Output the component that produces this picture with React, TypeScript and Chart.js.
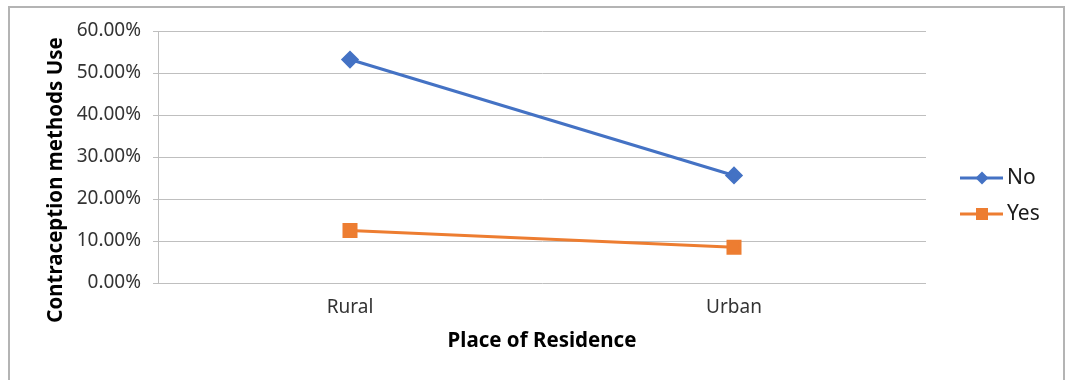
import React, { useEffect, useRef } from "react";
import { Chart, registerables } from "chart.js";

Chart.register(...registerables);

const categories = ["Rural", "Urban"];
const noValues = [53.2, 25.6];
const yesValues = [12.5, 8.5];
const seriesNames = ["No", "Yes"];
const xTitle = "Place of Residence";
const yTitle = "Contraception methods Use";

const FONT = "'Noto Sans', 'DejaVu Sans', sans-serif";

// Frame around the whole figure
const framePlugin = {
  id: "frame",
  beforeDraw(chart: any) {
    const ctx = chart.ctx;
    ctx.save();
    ctx.fillStyle = "#ffffff";
    ctx.fillRect(0, 0, chart.width, chart.height);
    ctx.strokeStyle = "#b4b4b4";
    ctx.lineWidth = 2;
    ctx.strokeRect(9, 7, 1055, 420);
    ctx.restore();
  },
};

// Vertical axis title, centred on the plot box
const yTitlePlugin = {
  id: "yTitle",
  afterDraw(chart: any) {
    const ctx = chart.ctx;
    ctx.save();
    ctx.translate(56, 180);
    ctx.rotate(-Math.PI / 2);
    ctx.font = `bold 20.5px ${FONT}`;
    ctx.fillStyle = "#000000";
    ctx.textAlign = "center";
    ctx.textBaseline = "middle";
    ctx.fillText(yTitle, 0, 0);
    ctx.restore();
  },
};

// Legend with a line segment and the series marker
const lineLegendPlugin = {
  id: "lineLegend",
  afterDraw(chart: any) {
    const ctx = chart.ctx;
    chart.data.datasets.forEach((ds: any, i: number) => {
      const y = 178 + i * 36;
      ctx.save();
      ctx.strokeStyle = ds.borderColor;
      ctx.lineWidth = 3;
      ctx.beginPath();
      ctx.moveTo(960, y);
      ctx.lineTo(1003, y);
      ctx.stroke();
      ctx.fillStyle = ds.pointBackgroundColor;
      ctx.beginPath();
      if (ds.pointStyle === "rectRot") {
        const r = 6.5;
        ctx.moveTo(982, y - r);
        ctx.lineTo(982 + r, y);
        ctx.lineTo(982, y + r);
        ctx.lineTo(982 - r, y);
        ctx.closePath();
      } else {
        ctx.rect(982 - 6, y - 6, 12, 12);
      }
      ctx.fill();
      ctx.font = `21px ${FONT}`;
      ctx.fillStyle = "#1a1a1a";
      ctx.textAlign = "left";
      ctx.textBaseline = "middle";
      ctx.fillText(ds.label, 1007, y);
      ctx.restore();
    });
  },
};

export default function App() {
  const ref = useRef<HTMLCanvasElement>(null);

  useEffect(() => {
    if (!ref.current) return;
    const chart = new Chart(ref.current, {
      type: "line",
      data: {
        labels: categories,
        datasets: [
          {
            label: seriesNames[0],
            data: noValues,
            borderColor: "#4472C4",
            backgroundColor: "#4472C4",
            pointBackgroundColor: "#4472C4",
            pointBorderColor: "#4472C4",
            pointStyle: "rectRot",
            pointRadius: 7,
            borderWidth: 3,
          },
          {
            label: seriesNames[1],
            data: yesValues,
            borderColor: "#ED7D31",
            backgroundColor: "#ED7D31",
            pointBackgroundColor: "#ED7D31",
            pointBorderColor: "#ED7D31",
            pointStyle: "rect",
            pointRadius: 8.5,
            borderWidth: 3,
          },
        ],
      },
      options: {
        responsive: false,
        animation: false,
        layout: { padding: { top: 31, right: 140, left: 0, bottom: 0 } },
        plugins: {
          legend: { display: false },
          tooltip: { enabled: false },
        },
        scales: {
          x: {
            offset: true,
            grid: { display: false, drawTicks: false },
            border: { display: false },
            ticks: { padding: 13, color: "#333333", font: { family: FONT, size: 19 } },
            title: {
              display: true,
              text: xTitle,
              color: "#000000",
              font: { family: FONT, size: 20.5, weight: "bold" },
              padding: { top: 0, bottom: 27 },
            },
            afterFit(scale: any) {
              scale.height = 97;
            },
          },
          y: {
            min: 0,
            max: 60,
            ticks: {
              stepSize: 10,
              padding: 12,
              color: "#333333",
              font: { family: FONT, size: 19 },
              callback: (v: any) => Number(v).toFixed(2) + "%",
            },
            grid: { color: "#bfbfbf", tickLength: 5, drawTicks: true },
            border: { display: true, color: "#bfbfbf" },
            afterFit(scale: any) {
              scale.width = 158;
            },
          },
        },
      },
      plugins: [framePlugin, yTitlePlugin, lineLegendPlugin],
    });
    return () => chart.destroy();
  }, []);

  return (
    <div style={{ position: "absolute", left: 0, top: 0, width: 1066, height: 380 }}>
      <canvas ref={ref} width={1066} height={380} style={{ width: 1066, height: 380 }} />
    </div>
  );
}
